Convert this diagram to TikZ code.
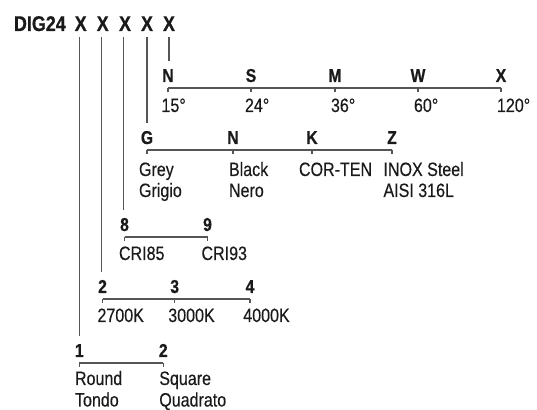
\documentclass[tikz,border=0pt]{standalone}
\usepackage{fontspec}
\setmainfont[FakeStretch=0.82]{Liberation Sans}
\newfontfamily\regfont[FakeStretch=0.83,FakeBold=0.35]{Liberation Sans}
\newfontfamily\boldfont[FakeStretch=0.84,FakeBold=0.6]{Liberation Sans}
\definecolor{ink}{HTML}{1A1A1A}
\definecolor{rule}{HTML}{555555}
\begin{document}
\begin{tikzpicture}[x=0.75pt,y=-0.75pt,
  every node/.style={inner sep=0pt,outer sep=0pt,text=ink},
  title/.style={font=\boldfont\fontsize{16}{18}\selectfont\bfseries,anchor=base},
  code/.style={font=\boldfont\fontsize{14}{16}\selectfont\bfseries,anchor=base},
  txt/.style={font=\regfont\fontsize{14.5}{16}\selectfont,anchor=base west},
  ln/.style={draw=rule,line width=0.8pt},
  lead/.style={ln,shorten >=6pt},
  bar/.style={ln},
]
\useasboundingbox (0,0) rectangle (537,410);

% title
\node[title,anchor=base west] (dig) at (14,31) {DIG24};
\node[title] (x1) at (80.7,31) {X};
\node[title] (x2) at (102.7,31) {X};
\node[title] (x3) at (125,31) {X};
\node[title] (x4) at (147,31) {X};
\node[title] (x5) at (169,31) {X};

% row: angle
\node[code] (n5) at (168,82) {N};
\node[code] (s5) at (251,82) {S};
\node[code] (m5) at (335,82) {M};
\node[code] (w5) at (418,82) {W};
\node[code] (xx5) at (501,82) {X};
\node[txt] (v15) at (161.5,112) {15°};
\node[txt] (v24) at (245,112) {24°};
\node[txt] (v36) at (331,112) {36°};
\node[txt] (v60) at (414,112) {60°};
\node[txt] (v120) at (497,112) {120°};

% row: finish
\node[code] (g4) at (147,144) {G};
\node[code] (n4) at (233,144) {N};
\node[code] (k4) at (312,144) {K};
\node[code] (z4) at (392,144) {Z};
\node[txt] (grey) at (139,176) {Grey};
\node[txt] (grigio) at (139,197) {Grigio};
\node[txt] (black) at (229,176) {Black};
\node[txt] (nero) at (229,197) {Nero};
\node[txt] (corten) at (299,176) {COR-TEN};
\node[txt] (inox) at (383.5,176) {INOX Steel};
\node[txt] (aisi) at (383.5,197) {AISI 316L};

% row: CRI
\node[code] (e3) at (124.5,231) {8};
\node[code] (nine3) at (207.5,231) {9};
\node[txt] (cri85) at (119,260) {CRI85};
\node[txt] (cri93) at (201.5,260) {CRI93};

% row: CCT
\node[code] (two2) at (102.5,293) {2};
\node[code] (three2) at (174.7,293) {3};
\node[code] (four2) at (250,293) {4};
\node[txt] (k27) at (97.5,322) {2700K};
\node[txt] (k30) at (168.3,322) {3000K};
\node[txt] (k40) at (243.3,322) {4000K};

% row: shape
\node[code] (one1) at (79.3,357) {1};
\node[code] (two1) at (163.3,357) {2};
\node[txt] (round) at (75,385) {Round};
\node[txt] (tondo) at (75,406.5) {Tondo};
\node[txt] (square) at (159.3,385) {Square};
\node[txt] (quad) at (159.3,406.5) {Quadrato};

% leaders from the code letters
\draw[lead] ([yshift=-4.5pt]x5.base) -- (x5.base |- n5.north);
\draw[lead] ([yshift=-4.5pt]x4.base) -- (x4.base |- g4.north);
\draw[lead] ([yshift=-4.5pt,xshift=-0.8pt]x3.base) -- ([xshift=-0.8pt]x3.base |- e3.north);
\draw[lead] ([yshift=-4.5pt,xshift=-0.8pt]x2.base) -- ([xshift=-0.8pt]x2.base |- two2.north);
\draw[lead] ([yshift=-4.5pt,xshift=-1.2pt]x1.base) -- ([xshift=-1.2pt]x1.base |- one1.north);

% brackets
\foreach \a/\b/\list in {n5/xx5/{n5,s5,m5,w5,xx5}, g4/z4/{g4,n4,k4,z4}, e3/nine3/{e3,nine3}, two2/four2/{two2,three2,four2}, one1/two1/{one1,two1}}{
  \draw[bar] ([yshift=-4.5pt]\a.base) -- ([yshift=-4.5pt]\b.base);
  \foreach \t in \list {
    \draw[bar] ([yshift=-4.5pt]\t.base) -- ([yshift=-7.5pt]\t.base);
  }
}
\end{tikzpicture}
\end{document}
